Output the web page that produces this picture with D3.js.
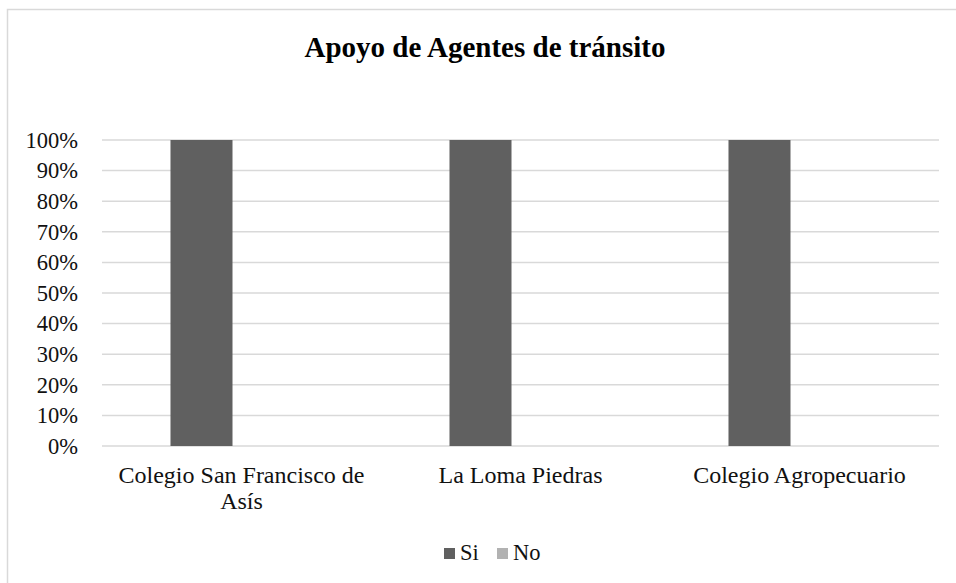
<!DOCTYPE html>
<html>
<head>
<meta charset="utf-8">
<script src="https://cdn.jsdelivr.net/npm/d3@7"></script>
<style>
  body { margin: 0; background: #fff; }
  svg { display: block; }
  svg text { font-family: "Liberation Serif", "Times New Roman", serif; }
</style>
</head>
<body>
<svg id="chart" width="956" height="583"></svg>
<script>
// chart data
const categories = ["Colegio San Francisco de Asís", "La Loma Piedras", "Colegio Agropecuario"];
const seriesNames = ["Si", "No"];
const siValues = [1, 1, 1];
const noValues = [0, 0, 0];
const yTickValues = [0, 0.1, 0.2, 0.3, 0.4, 0.5, 0.6, 0.7, 0.8, 0.9, 1];
const seriesColors = ["#606060", "#b2b2b2"];

const rows = categories.map((c, i) => ({ cat: c, Si: siValues[i], No: noValues[i] }));

const svg = d3.select("#chart");
const labelSize = "22.5px";

// outer chart border
svg.append("rect")
  .attr("x", 7.5).attr("y", 9.5)
  .attr("width", 970).attr("height", 600)
  .attr("fill", "none")
  .attr("stroke", "#d9d9d9")
  .attr("stroke-width", 1.5);

// plot area
const plotLeft = 102, plotRight = 939, plotTop = 140, plotBottom = 446;

const x0 = d3.scaleBand()
  .domain(categories)
  .range([plotLeft, plotRight])
  .padding(0);

const x1 = d3.scaleBand()
  .domain(seriesNames)
  .range([0, x0.bandwidth()])
  .paddingInner(0.225)
  .paddingOuter(0.856);

const y = d3.scaleLinear()
  .domain([0, 1])
  .range([plotBottom, plotTop]);

// gridlines
svg.append("g")
  .selectAll("line")
  .data(yTickValues)
  .enter()
  .append("line")
  .attr("x1", plotLeft).attr("x2", plotRight)
  .attr("y1", d => y(d)).attr("y2", d => y(d))
  .attr("stroke", "#d9d9d9")
  .attr("stroke-width", 1.5);

// y axis labels
const yAxis = svg.append("g")
  .attr("transform", `translate(${plotLeft - 24},0)`)
  .call(d3.axisLeft(y).tickValues(yTickValues).tickFormat(d3.format(".0%")).tickSize(0).tickPadding(0));
yAxis.select(".domain").remove();
yAxis.attr("font-family", null).attr("font-size", null);
yAxis.selectAll("text").attr("fill", "#111").style("font-size", labelSize);

// bars
const groups = svg.append("g")
  .selectAll("g")
  .data(rows)
  .enter()
  .append("g")
  .attr("transform", d => `translate(${x0(d.cat)},0)`);

groups.selectAll("rect")
  .data(d => seriesNames.map((s, i) => ({ key: s, value: d[s], color: seriesColors[i] })))
  .enter()
  .append("rect")
  .attr("x", d => x1(d.key))
  .attr("y", d => y(d.value))
  .attr("width", x1.bandwidth())
  .attr("height", d => plotBottom - y(d.value))
  .attr("fill", d => d.color);

// category labels (wrapped)
const xAxis = svg.append("g")
  .attr("transform", `translate(0,${plotBottom})`)
  .call(d3.axisBottom(x0).tickSize(0).tickPadding(0));
xAxis.select(".domain").remove();
xAxis.attr("font-family", null).attr("font-size", null);
xAxis.selectAll("text")
  .attr("fill", "#111")
  .style("font-size", "24px")
  .attr("y", 0)
  .attr("dy", 0)
  .call(wrap, x0.bandwidth() - 22);

function wrap(texts, maxW) {
  texts.each(function() {
    const text = d3.select(this);
    const words = text.text().split(/\s+/);
    text.text(null);
    let line = [];
    let lineNo = 0;
    let tspan = text.append("tspan").attr("x", 0).attr("y", 37);
    words.forEach(w => {
      line.push(w);
      tspan.text(line.join(" "));
      if (tspan.node().getComputedTextLength() > maxW && line.length > 1) {
        line.pop();
        tspan.text(line.join(" "));
        line = [w];
        lineNo++;
        tspan = text.append("tspan").attr("x", 0).attr("y", 37 + lineNo * 26).text(w);
      }
    });
  });
}

// title
svg.append("text")
  .attr("x", 485)
  .attr("y", 57)
  .attr("text-anchor", "middle")
  .style("font-size", "29px")
  .style("font-weight", "bold")
  .attr("fill", "#000")
  .text("Apoyo de Agentes de tránsito");

// legend
const legend = svg.append("g").attr("transform", "translate(444,560)");
const legendX = [0, 53];
seriesNames.forEach((s, i) => {
  legend.append("rect")
    .attr("x", legendX[i]).attr("y", -12)
    .attr("width", 11).attr("height", 11)
    .attr("fill", seriesColors[i]);
  legend.append("text")
    .attr("x", legendX[i] + 16)
    .attr("y", 0)
    .style("font-size", labelSize)
    .attr("fill", "#111")
    .text(s);
});
</script>
</body>
</html>
